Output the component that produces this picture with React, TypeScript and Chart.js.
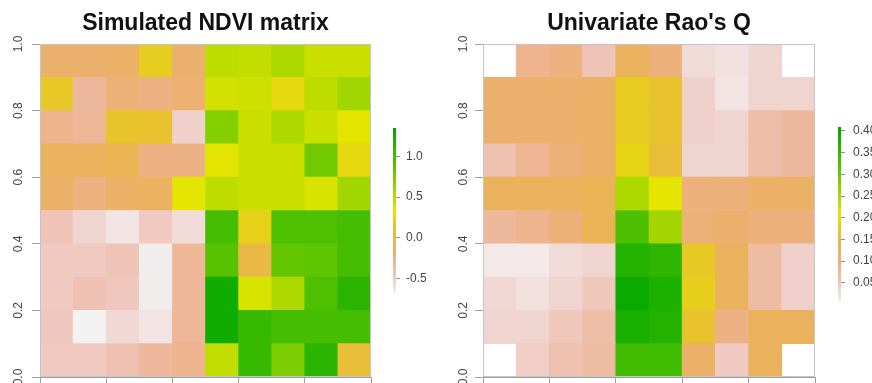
import React, { useEffect, useRef } from "react";
import { Chart, registerables } from "chart.js";

Chart.register(...registerables);

const ndviTitle = "Simulated NDVI matrix";
const raoTitle = "Univariate Rao's Q";
const axisTicks = [0, 0.2, 0.4, 0.6, 0.8, 1.0];

// rows from top (y 0.9-1.0) to bottom (y 0-0.1), columns left to right
const ndvi: number[][] = [
  [-0.13, -0.13, -0.11, 0.2, -0.13, 0.48, 0.46, 0.54, 0.44, 0.44],
  [0.17, -0.33, -0.17, -0.23, -0.15, 0.4, 0.42, 0.27, 0.48, 0.58],
  [-0.27, -0.31, 0.15, 0.13, -0.52, 0.7, 0.44, 0.54, 0.44, 0.34],
  [-0.07, -0.07, -0.03, -0.23, -0.23, 0.34, 0.44, 0.44, 0.78, 0.27],
  [-0.11, -0.21, -0.11, -0.09, 0.34, 0.48, 0.44, 0.44, 0.38, 0.58],
  [-0.44, -0.54, -0.62, -0.48, -0.58, 0.98, 0.23, 0.94, 0.94, 0.98],
  [-0.48, -0.48, -0.44, -0.66, -0.31, 0.9, 0.03, 0.84, 0.86, 0.98],
  [-0.48, -0.42, -0.46, -0.66, -0.31, 1.25, 0.38, 0.54, 0.94, 1.11],
  [-0.46, -0.68, -0.56, -0.62, -0.31, 1.25, 1.05, 0.98, 0.98, 0.98],
  [-0.48, -0.48, -0.42, -0.33, -0.27, 0.46, 1.05, 0.74, 1.11, 0.09],
];

const rao: (number | null)[][] = [
  [null, 0.087, 0.099, 0.054, 0.127, 0.103, 0.026, 0.022, 0.034, null],
  [0.115, 0.115, 0.115, 0.119, 0.179, 0.167, 0.038, 0.018, 0.034, 0.034],
  [0.115, 0.115, 0.115, 0.119, 0.179, 0.167, 0.038, 0.034, 0.066, 0.075],
  [0.058, 0.083, 0.107, 0.119, 0.191, 0.159, 0.034, 0.034, 0.066, 0.075],
  [0.127, 0.127, 0.127, 0.135, 0.248, 0.208, 0.103, 0.103, 0.119, 0.119],
  [0.075, 0.087, 0.107, 0.135, 0.328, 0.256, 0.107, 0.115, 0.103, 0.103],
  [0.014, 0.014, 0.026, 0.034, 0.369, 0.357, 0.175, 0.127, 0.07, 0.038],
  [0.03, 0.022, 0.034, 0.05, 0.397, 0.377, 0.183, 0.127, 0.07, 0.038],
  [0.034, 0.034, 0.05, 0.066, 0.381, 0.369, 0.167, 0.095, 0.127, 0.127],
  [null, 0.042, 0.058, 0.07, 0.34, 0.34, 0.119, 0.046, 0.127, null],
];

const ndviLegendTicks = [-0.5, 0.0, 0.5, 1.0];
const raoLegendTicks = [0.05, 0.1, 0.15, 0.2, 0.25, 0.3, 0.35, 0.4];
const ndviRange = [-0.68, 1.35];
const raoRange = [0.006, 0.409];

const FONT = "'Liberation Sans', Arial, Helvetica, sans-serif";
const LINE = "#a0a0a0";
const TEXT = "#444444";

function hsvToRgb(h: number, s: number, v: number): string {
  const c = v * s;
  const hp = h / 60;
  const x = c * (1 - Math.abs((hp % 2) - 1));
  let r = 0, g = 0, b = 0;
  if (hp < 1) { r = c; g = x; }
  else if (hp < 2) { r = x; g = c; }
  else if (hp < 3) { g = c; b = x; }
  else if (hp < 4) { g = x; b = c; }
  else if (hp < 5) { r = x; b = c; }
  else { r = c; b = x; }
  const m = v - c;
  const to = (u: number) => Math.round((u + m) * 255);
  return `rgb(${to(r)},${to(g)},${to(b)})`;
}

// reversed R terrain.colors: f=0 light grey, f=0.5 yellow, f=1 green
function terrain(f: number): string {
  const t0 = Math.max(0, Math.min(1, f));
  if (t0 >= 0.5) {
    const t = (1 - t0) / 0.5;
    return hsvToRgb(120 - 60 * t, 1, 0.65 + 0.25 * t);
  }
  const t = (0.5 - t0) / 0.5;
  return hsvToRgb(60 - 60 * t, 1 - t, 0.9 + 0.05 * t);
}

function framePlugin() {
  return {
    id: "frame",
    afterDatasetsDraw(chart: any) {
      const { ctx, chartArea: a } = chart;
      ctx.save();
      ctx.strokeStyle = "#c4c4c4";
      ctx.lineWidth = 1;
      ctx.strokeRect(Math.round(a.left) + 0.5, Math.round(a.top) + 0.5, Math.round(a.right - a.left) - 1, Math.round(a.bottom - a.top) - 1);
      ctx.restore();
    },
  };
}

function makeHeatmap(canvas: HTMLCanvasElement, matrix: (number | null)[][], range: number[], title: string, yWidth: number, labelPad: number, padRight: number) {
  const pts: any[] = [];
  const cols: string[] = [];
  const n = matrix.length;
  matrix.forEach((row, r) => {
    row.forEach((v, c) => {
      if (v === null) return;
      pts.push({ x: (c + 0.5) / row.length, y: [(n - 1 - r) / n, (n - r) / n] });
      cols.push(terrain((v - range[0]) / (range[1] - range[0])));
    });
  });
  return new Chart(canvas, {
    type: "bar",
    data: {
      datasets: [
        {
          data: pts,
          backgroundColor: cols,
          borderWidth: 0,
          barPercentage: 1,
          categoryPercentage: 1,
        } as any,
      ],
    },
    options: {
      animation: false,
      responsive: false,
      devicePixelRatio: 1,
      layout: { padding: { left: 0, right: padRight, top: 0, bottom: 0 } },
      plugins: {
        legend: { display: false },
        tooltip: { enabled: false },
        title: {
          display: true,
          text: title,
          fullSize: false,
          color: "#111111",
          font: { family: FONT, size: 23, weight: "bold", lineHeight: 1.2 },
          padding: { top: 10, bottom: 6.4 },
        },
      },
      scales: {
        x: {
          type: "linear",
          min: 0,
          max: 1,
          offset: false,
          afterBuildTicks: (s: any) => { s.ticks = axisTicks.map((v) => ({ value: v })); },
          ticks: { display: false },
          grid: { offset: false, drawOnChartArea: false, drawTicks: true, tickLength: 6, color: LINE },
          border: { display: true, color: LINE },
          afterFit: (s: any) => { s.height = 6; s.paddingLeft = 0; s.paddingRight = 0; },
        },
        y: {
          type: "linear",
          min: 0,
          max: 1,
          afterBuildTicks: (s: any) => { s.ticks = axisTicks.map((v) => ({ value: v })); },
          ticks: {
            minRotation: 90,
            maxRotation: 90,
            crossAlign: "center",
            padding: labelPad,
            color: TEXT,
            font: { family: FONT, size: 12 },
            callback: (v: any) => Number(v).toFixed(1),
          },
          grid: { drawOnChartArea: false, drawTicks: true, tickLength: 8, color: LINE },
          border: { display: true, color: LINE },
          afterFit: (s: any) => { s.width = yWidth; s.paddingTop = 0; s.paddingBottom = 0; },
        },
      },
    } as any,
    plugins: [framePlugin()],
  });
}

function makeColorbar(canvas: HTMLCanvasElement, range: number[], ticks: number[], digits: number, padTop: number, padBottom: number, axisWidth: number, labelPad: number) {
  const gradientPlugin = {
    id: "gradientBar",
    beforeDatasetsDraw(chart: any) {
      const { ctx, chartArea: a } = chart;
      const ys = chart.scales.y;
      const y0 = ys.getPixelForValue(range[0]);
      const y1 = ys.getPixelForValue(range[1]);
      const g = ctx.createLinearGradient(0, y0, 0, y1);
      for (let i = 0; i <= 40; i++) g.addColorStop(i / 40, terrain(i / 40));
      ctx.save();
      ctx.fillStyle = g;
      ctx.fillRect(a.left, y1, a.right - a.left, y0 - y1);
      ctx.restore();
    },
  };
  return new Chart(canvas, {
    type: "scatter",
    data: { datasets: [] },
    options: {
      animation: false,
      responsive: false,
      devicePixelRatio: 1,
      layout: { padding: { left: 8, right: 0, top: padTop, bottom: padBottom } },
      plugins: { legend: { display: false }, tooltip: { enabled: false }, title: { display: false } },
      scales: {
        x: { type: "linear", display: false, min: 0, max: 1 },
        y: {
          type: "linear",
          position: "right",
          min: range[0],
          max: range[1],
          afterBuildTicks: (s: any) => { s.ticks = ticks.map((v) => ({ value: v })); },
          ticks: {
            padding: labelPad,
            color: TEXT,
            font: { family: FONT, size: 12 },
            callback: (v: any) => Number(v).toFixed(digits),
          },
          grid: { drawOnChartArea: false, drawTicks: true, tickLength: 4, color: "#909090" },
          border: { display: false },
          afterFit: (s: any) => { s.width = axisWidth; s.paddingTop = 0; s.paddingBottom = 0; },
        },
      },
    } as any,
    plugins: [gradientPlugin],
  });
}

export default function App() {
  const leftRef = useRef<HTMLCanvasElement>(null);
  const rightRef = useRef<HTMLCanvasElement>(null);
  const leftBarRef = useRef<HTMLCanvasElement>(null);
  const rightBarRef = useRef<HTMLCanvasElement>(null);

  useEffect(() => {
    const charts = [
      makeHeatmap(leftRef.current!, ndvi, ndviRange, ndviTitle, 40, 4.5, 9),
      makeHeatmap(rightRef.current!, rao, raoRange, raoTitle, 47, 3, 11),
      makeColorbar(leftBarRef.current!, ndviRange, ndviLegendTicks, 1, 18, 17, 40, 6),
      makeColorbar(rightBarRef.current!, raoRange, raoLegendTicks, 2, 17, 18, 31, 8),
    ];
    return () => charts.forEach((c) => c.destroy());
  }, []);

  const abs = (left: number, top: number, w: number, h: number): React.CSSProperties => ({
    position: "absolute",
    left,
    top,
    width: w,
    height: h,
  });

  return (
    <div style={{ position: "absolute", left: 0, top: 0, width: 872, height: 383, overflow: "hidden", background: "#ffffff" }}>
      <canvas ref={leftRef} width={380} height={383} style={abs(0, 0, 380, 383)} />
      <canvas ref={leftBarRef} width={51} height={200} style={abs(385, 110, 51, 200)} />
      <canvas ref={rightRef} width={390} height={383} style={abs(436, 0, 390, 383)} />
      <canvas ref={rightBarRef} width={42} height={210} style={abs(830, 110, 42, 210)} />
    </div>
  );
}
